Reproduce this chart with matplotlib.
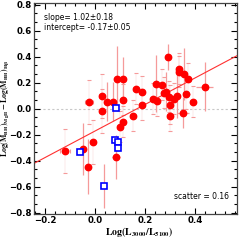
import numpy as np
import matplotlib
matplotlib.use('Agg')
import matplotlib.pyplot as plt
from matplotlib.ticker import MultipleLocator

# red points: log(L3000/L5100), delta log M_BH
red_x = [-0.122, -0.050, -0.030, -0.010, -0.026, 0.026, 0.026, 0.046, 0.070, 0.086,
         0.110, 0.110, 0.098, 0.110, 0.082, 0.150, 0.162, 0.186, 0.186, 0.230,
         0.242, 0.246, 0.266, 0.274, 0.282, 0.290, 0.294, 0.298, 0.298, 0.314,
         0.326, 0.334, 0.334, 0.354, 0.350, 0.362, 0.370, 0.390, 0.438]
red_y = [-0.323, -0.308, -0.446, -0.254, 0.054, 0.100, -0.015, 0.054, 0.054, 0.231,
         0.231, 0.069, -0.138, -0.100, -0.369, -0.054, 0.154, 0.131, 0.031, 0.077,
         0.192, 0.062, 0.185, 0.123, 0.131, 0.400, 0.092, 0.031, -0.054, 0.077,
         0.100, 0.308, 0.285, 0.269, -0.031, 0.115, 0.231, 0.054, 0.169]
# errors (strong = visible bars, faint = mostly caps)
red_yerr = [0.17, 0.20, 0.21, 0.17, 0.17, 0.17, 0.17, 0.15, 0.15, 0.25,
            0.17, 0.12, 0.12, 0.12, 0.17, 0.12, 0.12, 0.12, 0.12, 0.12,
            0.22, 0.12, 0.12, 0.12, 0.15, 0.10, 0.12, 0.15, 0.12, 0.12,
            0.17, 0.12, 0.12, 0.20, 0.12, 0.12, 0.12, 0.12, 0.19]
red_xerr = [0.02, 0.01, 0.01, 0.01, 0.015, 0.01, 0.01, 0.01, 0.01, 0.01,
            0.01, 0.01, 0.01, 0.01, 0.015, 0.01, 0.01, 0.01, 0.01, 0.01,
            0.01, 0.01, 0.01, 0.01, 0.01, 0.01, 0.01, 0.01, 0.01, 0.01,
            0.01, 0.01, 0.01, 0.01, 0.024, 0.01, 0.01, 0.01, 0.034]
red_strong = [0, 1, 1, 0, 0, 0, 0, 1, 1, 1,
              1, 0, 0, 0, 1, 0, 0, 0, 0, 0,
              1, 0, 0, 0, 1, 1, 0, 0, 0, 0,
              1, 0, 0, 1, 1, 0, 0, 0, 1]

blue_x = [-0.062, 0.034, 0.082, 0.078, 0.090, 0.090]
blue_y = [-0.331, -0.592, 0.008, -0.238, -0.254, -0.300]
blue_yerr = [0.0, 0.17, 0.0, 0.0, 0.0, 0.0]

slope, intercept = 1.02, -0.17

plt.rcParams['mathtext.fontset'] = 'stix'

fig = plt.figure(figsize=(2.41, 2.41), dpi=100)
ax = fig.add_axes([0.141, 0.112, 0.841, 0.874])

xlim = (-0.246, 0.565)
ax.set_xlim(xlim)
ax.set_ylim(-0.81, 0.81)

rx = np.array(red_x); ry = np.array(red_y)
rye = np.array(red_yerr); rxe = np.array(red_xerr)
st = np.array(red_strong, dtype=bool)

pink = '#f59a9a'
# faint error bars
ax.errorbar(rx[~st], ry[~st], yerr=rye[~st], xerr=rxe[~st], fmt='none',
            ecolor=pink, elinewidth=0.15, capsize=1.2, capthick=0.8, zorder=1)
# visible error bars
ax.errorbar(rx[st], ry[st], yerr=rye[st], xerr=rxe[st], fmt='none',
            ecolor=pink, elinewidth=0.9, capsize=0, zorder=1)
ax.errorbar(blue_x, blue_y, yerr=blue_yerr, fmt='none',
            ecolor=pink, elinewidth=0.9, capsize=0, zorder=1)

ax.axhline(0, color='#c8c8c8', lw=0.8, ls=(0, (2, 2)), zorder=0)

xx = np.array(xlim)
ax.plot(xx, slope * xx + intercept, color='#ff3030', lw=0.8, zorder=2)

ax.plot(rx, ry, 'o', color='#ff0000', ms=4.6, mec='#ff0000', zorder=3)
ax.plot(blue_x, blue_y, 's', mfc='white', mec='#0000ff', mew=1.2, ms=4.2, zorder=3)

ax.xaxis.set_major_locator(MultipleLocator(0.2))
ax.xaxis.set_minor_locator(MultipleLocator(0.04))
ax.yaxis.set_major_locator(MultipleLocator(0.2))
ax.yaxis.set_minor_locator(MultipleLocator(0.2 / 3))
ax.tick_params(which='both', direction='in', top=True, right=True, width=0.8)
ax.tick_params(which='major', length=4, labelsize=6.2, pad=1.5)
ax.tick_params(which='minor', length=2)
for lab in ax.get_xticklabels() + ax.get_yticklabels():
    lab.set_fontweight('bold')
for s in ax.spines.values():
    s.set_linewidth(0.9)
    s.set_color('#444444')

ax.set_xlabel(r'$\mathbf{Log(L_{3000}/L_{5100})}$', fontsize=7)
ax.set_ylabel(r'$\mathbf{Log(M_{BH})_{MgII}-Log(M_{BH})_{H\beta}}$', fontsize=5.6)
ax.xaxis.set_label_coords(0.52, -0.052)
ax.yaxis.set_label_coords(-0.114, 0.5)

ax.text(0.05, 0.955, 'slope= 1.02±0.18', transform=ax.transAxes, fontsize=5.5,
        va='top', ha='left')
ax.text(0.05, 0.905, 'intercept= -0.17±0.05', transform=ax.transAxes, fontsize=5.5,
        va='top', ha='left')
ax.text(0.96, 0.06, 'scatter = 0.16', transform=ax.transAxes, fontsize=5.5,
        va='bottom', ha='right')

fig.savefig('out.png', dpi=100)
